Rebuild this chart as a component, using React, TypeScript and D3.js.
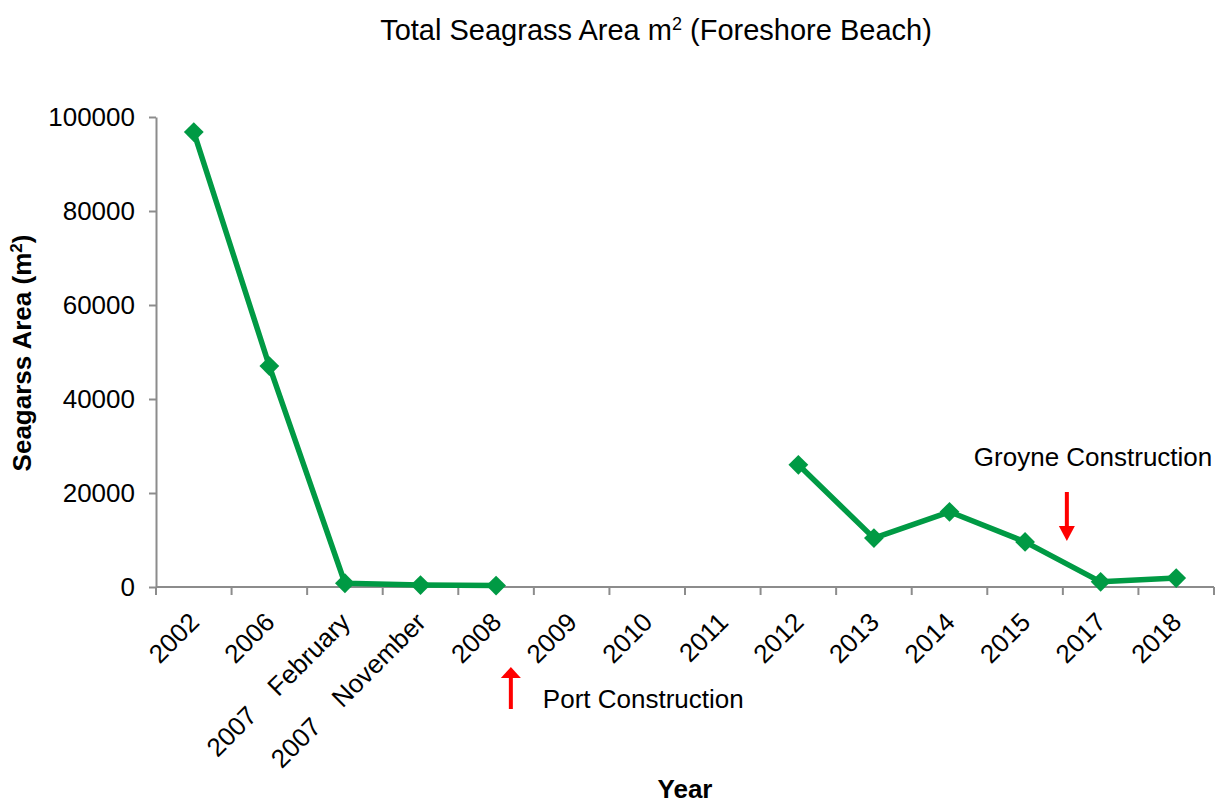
import React, { useEffect, useRef } from "react";
import * as d3 from "d3";

// categories on the x axis (two-part labels are split so they can be spaced like the original)
const categories = [
  "2002",
  "2006",
  "2007 February",
  "2007 November",
  "2008",
  "2009",
  "2010",
  "2011",
  "2012",
  "2013",
  "2014",
  "2015",
  "2017",
  "2018",
];

// total seagrass area, m² (null = no survey)
const areaValues: (number | null)[] = [
  96800, 47000, 800, 400, 300, null, null, null, 26000, 10400, 16000, 9600, 1100, 1900,
];

const yTicks = [0, 20000, 40000, 60000, 80000, 100000];

// arrows sit next to a category boundary; offset is from the left edge of that category
const annotations = [
  { label: "Port Construction", at: "2009", offset: -23, dir: "up" },
  { label: "Groyne Construction", at: "2017", offset: 4, dir: "down" },
];

const width = 1223;
const height = 804;
const margin = { top: 117, right: 9, bottom: 217, left: 156 };
const green = "#009a44";
const axisGrey = "#8c8c8c";
const red = "#ff0000";
const font = "'Liberation Sans', Arial, sans-serif";

const App = () => {
  const yAxisRef = useRef<SVGGElement>(null);

  const x = d3
    .scaleBand<string>()
    .domain(categories)
    .range([margin.left, width - margin.right])
    .padding(0);

  const y = d3
    .scaleLinear()
    .domain([0, 100000])
    .range([height - margin.bottom, margin.top]);

  const cx = (c: string) => (x(c) as number) + x.bandwidth() / 2;

  const line = d3
    .line<number | null>()
    .defined((d) => d !== null)
    .x((_, i) => cx(categories[i]))
    .y((d) => y(d as number));

  useEffect(() => {
    const g = d3.select(yAxisRef.current);
    g.call(
      d3
        .axisLeft(y)
        .tickValues(yTicks)
        .tickFormat(d3.format("d"))
        .tickSize(7)
        .tickSizeOuter(0)
        .tickPadding(14)
    );
    g.select(".domain").attr("stroke", axisGrey).attr("stroke-width", 2);
    g.selectAll(".tick line").attr("stroke", axisGrey).attr("stroke-width", 2);
    g.selectAll(".tick text")
      .attr("font-size", 26)
      .attr("font-family", font)
      .attr("fill", "#000");
  }, []);

  const baseY = y(0);
  const boundaries = [...categories.map((c) => x(c) as number), width - margin.right];
  const diamond = d3.symbol().type(d3.symbolDiamond2).size(250)();

  return (
    <svg
      width={width}
      height={height}
      style={{ position: "absolute", left: 0, top: 0, background: "#fff" }}
      fontFamily={font}
    >
      <text x={656} y={40} textAnchor="middle" fontSize={29}>
        Total Seagrass Area m
        <tspan fontSize={18} dy={-10}>2</tspan>
        <tspan dy={10}> (Foreshore Beach)</tspan>
      </text>

      <g ref={yAxisRef} transform={`translate(${margin.left},0)`} />

      {/* x axis */}
      <line x1={margin.left} x2={width - margin.right} y1={baseY} y2={baseY} stroke={axisGrey} strokeWidth={2} />
      {boundaries.map((bx, i) => (
        <line key={i} x1={bx} x2={bx} y1={baseY} y2={baseY + 8} stroke={axisGrey} strokeWidth={2} />
      ))}
      {categories.map((c) => {
        const parts = c.split(" ");
        const tx = cx(c) - 6;
        const ty = baseY + 24;
        return (
          <text
            key={c}
            transform={`translate(${tx},${ty}) rotate(-45)`}
            textAnchor="end"
            fontSize={26}
            dy="0.7em"
          >
            {parts.length === 2 ? (
              <>
                <tspan>{parts[0]}</tspan>
                <tspan dx={28}>{parts[1]}</tspan>
              </>
            ) : (
              c
            )}
          </text>
        );
      })}

      {/* axis titles */}
      <text
        transform={`translate(31,${(margin.top + baseY) / 2 + 1}) rotate(-90)`}
        textAnchor="middle"
        fontSize={26}
        fontWeight="bold"
      >
        Seagarss Area (m
        <tspan fontSize={17} dy={-9}>2</tspan>
        <tspan dy={9}>)</tspan>
      </text>
      <text x={685} y={798} textAnchor="middle" fontSize={26} fontWeight="bold">
        Year
      </text>

      {/* series */}
      <path d={line(areaValues) || ""} fill="none" stroke={green} strokeWidth={5.5} strokeLinejoin="round" />
      {areaValues.map((v, i) =>
        v === null ? null : (
          <path key={i} d={diamond || ""} transform={`translate(${cx(categories[i])},${y(v)})`} fill={green} />
        )
      )}

      {/* annotations */}
      {annotations.map((a) => {
        const ax = (x(a.at) as number) + a.offset;
        if (a.dir === "up") {
          return (
            <g key={a.label}>
              <line x1={ax} x2={ax} y1={709} y2={676} stroke={red} strokeWidth={4} />
              <path d={`M${ax - 10},${678} L${ax},${667} L${ax + 10},${678} Z`} fill={red} />
              <text x={ax + 32} y={708} fontSize={26}>
                {a.label}
              </text>
            </g>
          );
        }
        return (
          <g key={a.label}>
            <line x1={ax} x2={ax} y1={492} y2={528} stroke={red} strokeWidth={4} />
            <path d={`M${ax - 8},${526} L${ax},${541} L${ax + 8},${526} Z`} fill={red} />
            <text x={ax - 93} y={466} fontSize={26}>
              {a.label}
            </text>
          </g>
        );
      })}
    </svg>
  );
};

export default App;
